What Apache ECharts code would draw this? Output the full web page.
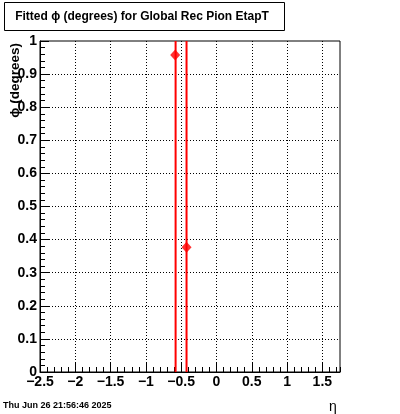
<!DOCTYPE html>
<html>
<head>
<meta charset="utf-8">
<script src="https://cdn.jsdelivr.net/npm/echarts@6/dist/echarts.min.js"></script>
<style>html,body{margin:0;padding:0;background:#fff}#c{width:400px;height:414px}</style>
</head>
<body>
<div id="c"></div>
<script>
// Data
var pointEta = [-0.585, -0.424];
var pointPhi = [0.958, 0.377];
var lineEta = [-0.579, -0.424];
var xRange = [-2.5, 1.75];
var yRange = [0, 1];
var titleText = 'Fitted \u03d5 (degrees) for Global Rec Pion EtapT';
var yTitle = '\u03d5 (degrees)';
var xTitle = '\u03b7';
var dateText = 'Thu Jun 26 21:56:46 2025';

var chart = echarts.init(document.getElementById('c'), null, {renderer: 'canvas'});
var font = 'Liberation Sans, Arial, sans-serif';

var series = [];
lineEta.forEach(function (x) {
  series.push({
    type: 'line', xAxisIndex: 0, yAxisIndex: 0,
    data: [[x, yRange[0]], [x, yRange[1]]],
    symbol: 'none', silent: true,
    lineStyle: {color: '#ff0000', width: 2}
  });
});
series.push({
  type: 'scatter', xAxisIndex: 0, yAxisIndex: 0,
  data: pointEta.map(function (x, i) { return [x, pointPhi[i]]; }),
  symbol: 'diamond', symbolSize: [10, 11],
  itemStyle: {color: '#ff0000'}
});

chart.setOption({
  animation: false,
  backgroundColor: '#fff',
  grid: {left: 40, right: 60, top: 41, bottom: 42, show: true, borderColor: '#000', borderWidth: 1, backgroundColor: 'transparent', containLabel: false},
  xAxis: [{
    type: 'value', min: xRange[0], max: xRange[1], interval: 0.5, position: 'bottom',
    axisLine: {show: true, onZero: false, lineStyle: {color: '#000', width: 1}},
    axisTick: {show: true, inside: true, length: 10, lineStyle: {color: '#000'}},
    axisLabel: {show: true, color: '#000', fontFamily: font, fontWeight: 'bold', fontSize: 14, margin: 3, showMaxLabel: false,
      formatter: function (v) { return String(v).replace('-', '\u2212'); }},
    splitLine: {show: true, showMinLine: false, showMaxLine: false, lineStyle: {color: '#000', type: [1, 2], width: 1}}
  }, {
    type: 'value', min: xRange[0], max: xRange[1], interval: 0.1, position: 'bottom',
    axisLine: {show: false, onZero: false},
    axisTick: {show: true, inside: true, length: 5, lineStyle: {color: '#000'}},
    axisLabel: {show: false},
    splitLine: {show: false}
  }],
  yAxis: [{
    type: 'value', min: yRange[0], max: yRange[1], interval: 0.1, position: 'left',
    axisLine: {show: true, onZero: false, lineStyle: {color: '#000', width: 1}},
    axisTick: {show: true, inside: true, length: 9, lineStyle: {color: '#000'}},
    minorTick: {show: true, splitNumber: 5, length: 5, lineStyle: {color: '#000'}},
    axisLabel: {show: true, color: '#000', fontFamily: font, fontWeight: 'bold', fontSize: 14, margin: 3},
    splitLine: {show: true, showMinLine: false, showMaxLine: false, lineStyle: {color: '#000', type: [1, 2], width: 1}}
  }],
  series: series,
  graphic: [
    {type: 'rect', shape: {x: 4.5, y: 2.5, width: 280, height: 28}, style: {fill: '#fff', stroke: '#000', lineWidth: 1}},
    {type: 'text', x: 142, y: 17, style: {text: titleText, font: 'bold 12px ' + font, fill: '#000', textAlign: 'center', textVerticalAlign: 'middle'}},
    {type: 'text', x: 15, y: 43, rotation: Math.PI / 2, style: {text: yTitle, font: 'bold 13.5px ' + font, fill: '#000', textAlign: 'right', textVerticalAlign: 'middle'}},
    {type: 'text', x: 333, y: 407, style: {text: xTitle, font: '14px ' + font, fill: '#000', textAlign: 'center', textVerticalAlign: 'middle'}},
    {type: 'text', x: 3, y: 406, style: {text: dateText, font: 'bold 9px ' + font, fill: '#000', textAlign: 'left', textVerticalAlign: 'middle'}}
  ]
});
</script>
</body>
</html>
